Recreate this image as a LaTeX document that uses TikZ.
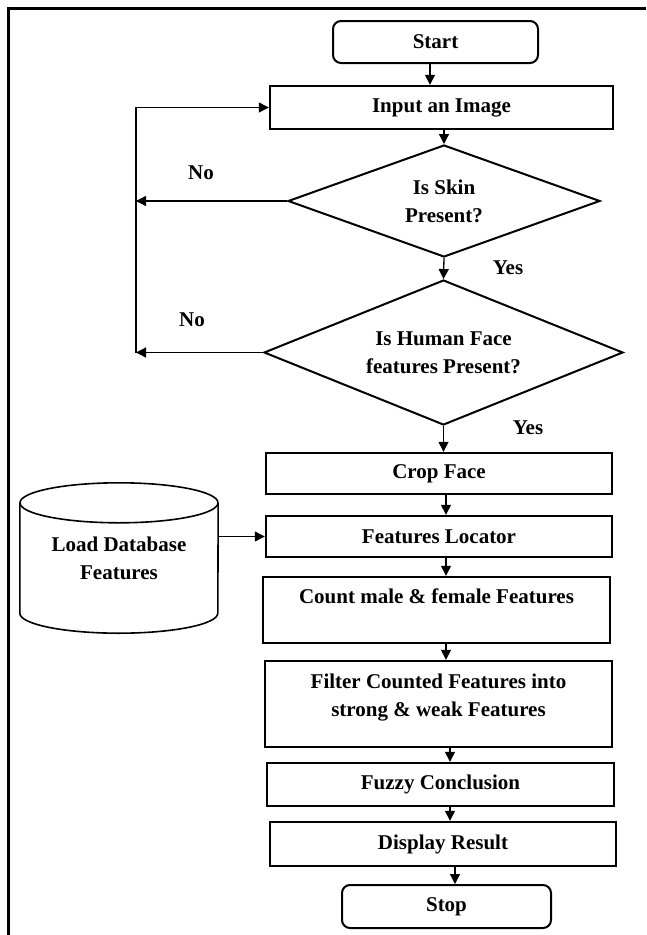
\documentclass[tikz,border=0pt]{standalone}
\usepackage{fontspec}
\setmainfont{Liberation Serif}
\usetikzlibrary{shapes.geometric,arrows.meta}
\begin{document}
\begin{tikzpicture}[x=1pt,y=-1pt,
  every node/.style={font=\bfseries\fontsize{21}{28}\selectfont},
  box/.style={draw, line width=2.4pt, align=center, inner sep=0pt},
  term/.style={box, rounded corners=8pt, line width=2pt},
  dec/.style={draw, diamond, aspect=2.8, line width=2pt, align=center, inner sep=0pt},
  arr/.style={line width=1.3pt, -{Triangle[length=10pt,width=10pt]}},
  lbl/.style={inner sep=0pt}]
\useasboundingbox (0,0) rectangle (646,935);
\draw[line width=2.2pt] (8.5,935) -- (8.5,8.5) -- (646,8.5);

\node[term, minimum width=205pt, minimum height=42pt] (start) at (435.5,42) {Start};
\node[box, minimum width=343pt, minimum height=43pt] (inp) at (441.5,107.5) {Input an Image};
\node[dec, minimum width=312pt, minimum height=112pt] (d1) at (444,201) {Is Skin\\Present?};
\node[dec, minimum width=359pt, minimum height=145pt] (d2) at (443.5,352.5) {Is Human Face\\features Present?};
\node[box, minimum width=346pt, minimum height=41pt] (crop) at (439,473.5) {Crop Face};
\node[box, minimum width=346pt, minimum height=41pt] (fl) at (439,536.5) {Features Locator};
\node[box, minimum width=347pt, minimum height=66pt] (count) at (436.5,610) {Count male \& female Features\\\mbox{}};
\node[box, minimum width=347pt, minimum height=86pt] (filt) at (438.5,704) {Filter Counted Features into\\strong \& weak Features\\[-10pt]\mbox{}};
\node[box, minimum width=347pt, minimum height=43pt] (fuzzy) at (440.5,784.5) {Fuzzy Conclusion};
\node[box, minimum width=346pt, minimum height=44pt] (disp) at (443,844) {Display Result};
\node[term, minimum width=209pt, minimum height=43pt] (stop) at (446.5,906.5) {Stop};

\node[align=center, minimum width=198pt, minimum height=150pt, inner sep=0pt] (db) at (119,558) {Load Database\\Features};
\draw[line width=1.6pt] ([yshift=-20pt]db.north) ellipse [x radius=99pt, y radius=20pt];
\draw[line width=1.6pt] ([yshift=-20pt]db.north west) -- ([yshift=20pt]db.south west)
  arc[start angle=180, end angle=360, x radius=99pt, y radius=20pt] -- ([yshift=-20pt]db.north east);

\node[lbl] (no1) at (201,173) {No};
\node[lbl] (no2) at (192,320) {No};
\node[lbl] (yes1) at (508,268) {Yes};
\node[lbl] (yes2) at (528,428) {Yes};

\coordinate (lx) at (136,0);
\coordinate (xa) at (430,0);
\coordinate (xb) at (444,0);
\coordinate (xc) at (446,0);
\coordinate (xd) at (450,0);
\coordinate (xe) at (455,0);

\draw[arr] (start.south -| xa) -- (inp.north -| xa);
\draw[arr] (inp.south -| xb) -- (d1.north);
\draw[arr] (d1.south) -- (d2.north);
\draw[arr] (d2.south) -- (crop.north -| d2.south);
\draw[arr] (crop.south -| xc) -- (fl.north -| xc);
\draw[arr] (fl.south -| xc) -- (count.north -| xc);
\draw[arr] (count.south -| xc) -- (filt.north -| xc);
\draw[arr] (filt.south -| xd) -- (fuzzy.north -| xd);
\draw[arr] (fuzzy.south -| xd) -- (disp.north -| xd);
\draw[arr] (disp.south -| xe) -- (stop.north -| xe);

\draw[arr] (d1.west) -- (d1.west -| lx);
\draw[arr] (d2.west) -- (d2.west -| lx);
\draw[arr] (d2.west -| lx) -- (inp.west -| lx) -- (inp.west);
\draw[arr] (db.east |- fl.west) -- (fl.west);
\end{tikzpicture}
\end{document}
